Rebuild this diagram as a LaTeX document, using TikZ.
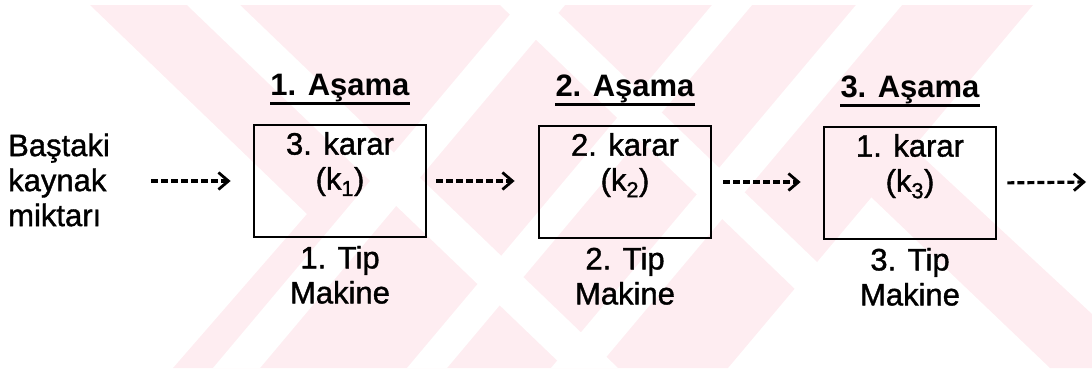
\documentclass[tikz,border=0pt]{standalone}
\usepackage{fontspec}
\setmainfont{Liberation Sans}
\newfontfamily\bodyfont{Liberation Sans}[FakeBold=1.2]
\usetikzlibrary{arrows.meta}

\definecolor{wmpink}{RGB}{254,237,241}

\tikzset{
  txt/.style={font=\bodyfont\fontsize{31}{35}\selectfont, inner sep=0pt, align=center},
  stagebox/.style={draw, line width=2.8pt, minimum width=172pt, minimum height=112pt, inner sep=0pt},
  stagehead/.style={font=\fontsize{31}{35}\selectfont\bfseries, inner sep=0pt},
  headline/.style={line width=2.8pt},
  flow/.style={line width=3.2pt, dash pattern=on 7pt off 3pt,
    -{Straight Barb[length=10pt,width=17pt,line width=2.8pt]}},
}

\begin{document}
\begin{tikzpicture}[x=1pt,y=-1pt]
\useasboundingbox (0,0) rectangle (1092,368);

% faint background chevrons
\begin{scope}
\clip (0,5) rectangle (1092,368);
\fill[wmpink] (90,5) -- (1033,5) -- (728,368) -- (173,368) -- (307,214) -- cycle;
\fill[wmpink] (913,148) -- (870,196) -- (1050,368) -- (1092,368) -- (1092,314) -- cycle;
% white "\" stripes
\fill[white] (187,5) -- (240,5) -- (618,368) -- (565,368) -- cycle;
\fill[white] (500,5) -- (550,5) -- (927,368) -- (877,368) -- cycle;
% white "/" stripes
\fill[white] (213,368) -- (260,368) -- (565,5) -- (518,5) -- cycle;
\fill[white] (407,368) -- (447,368) -- (752,5) -- (712,5) -- cycle;
\fill[white] (551,368) -- (597,368) -- (902,5) -- (856,5) -- cycle;
\end{scope}

% input
\node[txt, align=left, anchor=west] (in) at (8,180) {Baştaki\\kaynak\\miktarı};

% stages
\node[stagebox] (b1) at (340,181) {};
\node[stagebox] (b2) at (625,182) {};
\node[stagebox] (b3) at (910,183) {};

\foreach \i/\d/\t in {1/3/1, 2/2/2, 3/1/3}{
  \node[stagehead, anchor=base] (h\i) at ([yshift=28pt]b\i.north) {\i. Aşama};
  \draw[headline] ([yshift=-1pt]h\i.south west) -- ([yshift=-1pt]h\i.south east);
  \node[txt, anchor=base] (d\i) at ([yshift=-66pt]b\i.north) {\d. karar\\(k\textsubscript{\t})};
  \node[txt, anchor=base] (m\i) at ([yshift=-65pt]b\i.south) {\i. Tip\\Makine};
}

\coordinate (out) at (1086,182);

\draw[flow, shorten <=41pt, shorten >=22pt] (in.east |- b1.west) -- (b1.west);
\draw[flow, shorten <=9pt, shorten >=23pt] (b1.east) -- (b2.west |- b1.east);
\draw[flow, shorten <=11pt, shorten >=22pt] (b2.east) -- (b3.west |- b2.east);
\draw[flow, shorten <=10pt] (b3.east) -- (out);
\end{tikzpicture}
\end{document}
